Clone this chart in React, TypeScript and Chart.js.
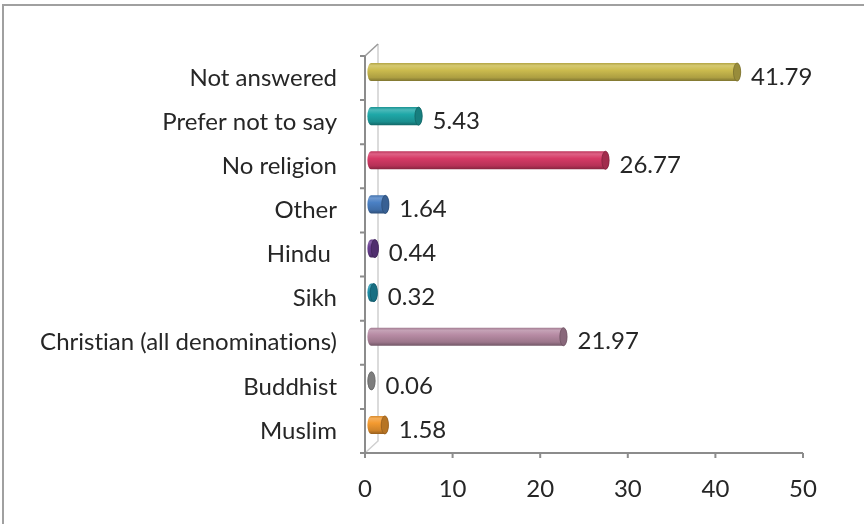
import React, { useEffect, useRef } from "react";
import { Chart, registerables } from "chart.js";

Chart.register(...registerables);

const categories = [
  "Not answered",
  "Prefer not to say",
  "No religion",
  "Other",
  "Hindu ",
  "Sikh",
  "Christian (all denominations)",
  "Buddhist",
  "Muslim",
];
const values = [41.79, 5.43, 26.77, 1.64, 0.44, 0.32, 21.97, 0.06, 1.58];
const valueLabels = ["41.79", "5.43", "26.77", "1.64", "0.44", "0.32", "21.97", "0.06", "1.58"];
const barColors = [
  "#cbbb4e",
  "#1fa8a8",
  "#d63a66",
  "#4a80c4",
  "#6b3f93",
  "#1f93ad",
  "#b78ba4",
  "#a6a6a6",
  "#f39a30",
];
const xTicks = [0, 10, 20, 30, 40, 50];

const FONT = "Lato, 'Open Sans', sans-serif";
const FSIZE = 24;

function shade(hex: string, f: number) {
  const n = parseInt(hex.slice(1), 16);
  let r = (n >> 16) & 255, g = (n >> 8) & 255, b = n & 255;
  if (f < 0) {
    r = Math.round(r * (1 + f)); g = Math.round(g * (1 + f)); b = Math.round(b * (1 + f));
  } else {
    r = Math.round(r + (255 - r) * f); g = Math.round(g + (255 - g) * f); b = Math.round(b + (255 - b) * f);
  }
  return `rgb(${r},${g},${b})`;
}

const decorPlugin = {
  id: "decor",
  beforeInit(chart: any) {
    try { (chart.ctx as any).textRendering = "optimizeSpeed"; } catch (e) {}
  },
  beforeDraw(chart: any) {
    const { ctx } = chart;
    try { (ctx as any).textRendering = "optimizeSpeed"; } catch (e) {}
    ctx.save();
    ctx.strokeStyle = "#a0a0a0";
    ctx.lineWidth = 2;
    ctx.beginPath();
    ctx.moveTo(3, chart.height);
    ctx.lineTo(3, 5);
    ctx.lineTo(chart.width, 5);
    ctx.stroke();

    const xs = chart.scales.x;
    const ys = chart.scales.y;
    const L = xs.left, R = xs.right, T = ys.top, B = ys.bottom;
    const dx = 13, dy = -12;
    ctx.strokeStyle = "#d0d0d0";
    ctx.lineWidth = 1.5;
    ctx.beginPath();
    ctx.moveTo(L + dx, T + dy);
    ctx.lineTo(L + dx, B + dy);
    ctx.lineTo(L, B);
    ctx.stroke();
    ctx.strokeStyle = "#9a9a9a";
    ctx.beginPath();
    ctx.moveTo(L, T);
    ctx.lineTo(L + dx, T + dy);
    ctx.stroke();
    ctx.strokeStyle = "#8c8c8c";
    ctx.lineWidth = 2;
    ctx.beginPath();
    ctx.moveTo(L, T);
    ctx.lineTo(L, B + 5);
    ctx.moveTo(L - 5, B);
    ctx.lineTo(R, B);
    ctx.stroke();
    ctx.beginPath();
    const n = categories.length;
    for (let i = 0; i <= n; i++) {
      const y = T + ((B - T) * i) / n;
      ctx.moveTo(L - 5, y);
      ctx.lineTo(L, y);
    }
    for (const t of xTicks) {
      const x = xs.getPixelForValue(t);
      ctx.moveTo(x, B);
      ctx.lineTo(x, B + 5);
    }
    ctx.stroke();
    ctx.restore();
  },
  afterDatasetsDraw(chart: any) {
    const { ctx } = chart;
    const meta = chart.getDatasetMeta(0);
    const dx = 6, dy = -6;
    ctx.save();
    meta.data.forEach((el: any, i: number) => {
      const p = el.getProps(["x", "y", "base", "height"], true);
      const col = barColors[i];
      const h = p.height;
      const x0 = p.base + dx;
      const x1 = p.x + dx;
      const yc = p.y + dy;
      const top = yc - h / 2, bot = yc + h / 2;
      const rx = h * 0.2;
      const g = ctx.createLinearGradient(0, top, 0, bot);
      g.addColorStop(0, shade(col, -0.12));
      g.addColorStop(0.15, shade(col, 0.2));
      g.addColorStop(0.4, col);
      g.addColorStop(0.8, shade(col, -0.15));
      g.addColorStop(1, shade(col, -0.38));
      ctx.beginPath();
      ctx.moveTo(x0, top);
      ctx.lineTo(x1, top);
      ctx.ellipse(x1, yc, rx, h / 2, 0, -Math.PI / 2, Math.PI / 2);
      ctx.lineTo(x0, bot);
      ctx.ellipse(x0, yc, rx, h / 2, 0, Math.PI / 2, (3 * Math.PI) / 2);
      ctx.closePath();
      ctx.fillStyle = g;
      ctx.fill();
      ctx.beginPath();
      ctx.ellipse(x1, yc, rx, h / 2, 0, 0, Math.PI * 2);
      ctx.fillStyle = shade(col, -0.25);
      ctx.fill();
      ctx.strokeStyle = shade(col, -0.4);
      ctx.lineWidth = 0.8;
      ctx.stroke();

      ctx.fillStyle = "#262626";
      ctx.font = `${FSIZE}px ${FONT}`;
      ctx.textAlign = "left";
      ctx.textBaseline = "middle";
      ctx.fillText(valueLabels[i], p.x + 20, p.y - 1);
    });
    ctx.restore();
  },
};

export default function App() {
  const ref = useRef<HTMLCanvasElement | null>(null);
  useEffect(() => {
    document.body.style.margin = "0";
    const canvas = ref.current!;
    const chart = new Chart(canvas, {
      type: "bar",
      data: {
        labels: categories,
        datasets: [
          {
            data: values,
            backgroundColor: "rgba(0,0,0,0)",
            borderWidth: 0,
            barPercentage: 0.41,
            categoryPercentage: 1,
          },
        ],
      },
      options: {
        indexAxis: "y",
        responsive: false,
        animation: false,
        layout: { padding: { left: 0, right: 61, top: 56, bottom: 0 } },
        plugins: { legend: { display: false }, tooltip: { enabled: false } },
        scales: {
          x: {
            min: 0,
            max: 50,
            afterFit: (s: any) => { s.height = 71; },
            afterBuildTicks: (s: any) => { s.ticks = xTicks.map((v) => ({ value: v })); },
            grid: { display: false, drawTicks: false },
            border: { display: false },
            ticks: { color: "#262626", font: { family: FONT, size: FSIZE }, padding: 22 },
          },
          y: {
            afterFit: (s: any) => { s.width = 365; },
            grid: { display: false, drawTicks: false },
            border: { display: false },
            ticks: { color: "#262626", font: { family: FONT, size: FSIZE }, padding: 28, autoSkip: false },
          },
        },
      },
      plugins: [decorPlugin],
    });
    return () => chart.destroy();
  }, []);
  return <canvas ref={ref} width={864} height={524} style={{ display: "block" }} />;
}
